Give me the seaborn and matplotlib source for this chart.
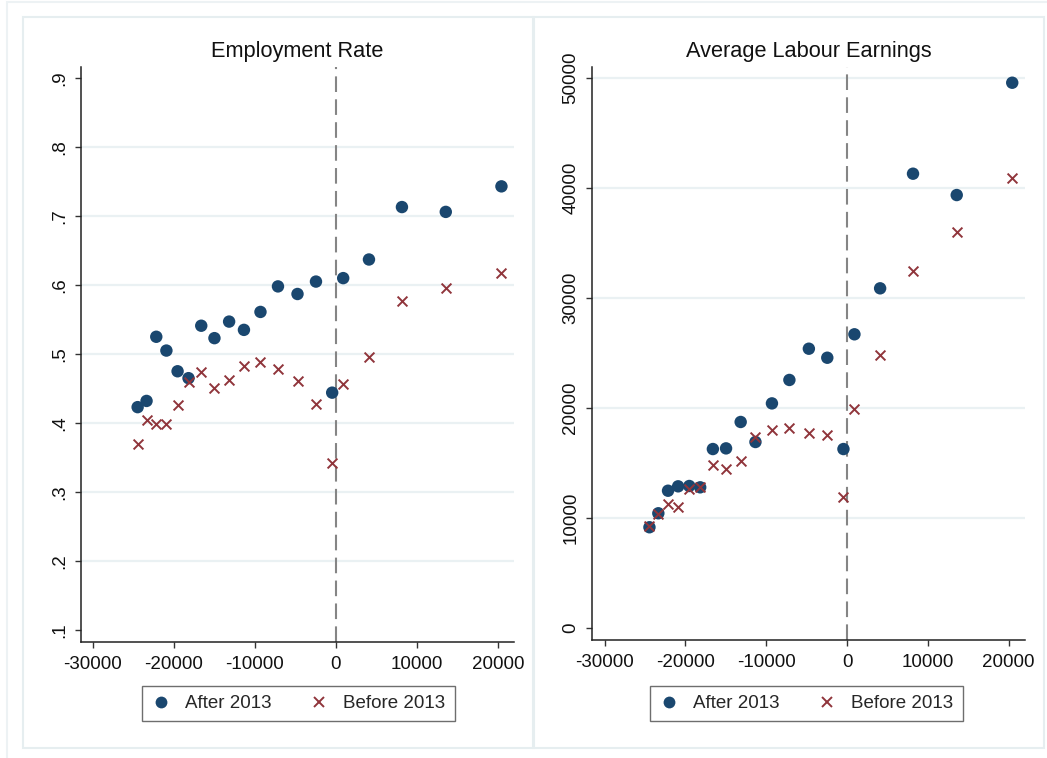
import matplotlib
matplotlib.use("Agg")
import matplotlib.pyplot as plt
from matplotlib.lines import Line2D
from matplotlib.patches import Rectangle
import seaborn as sns
import pandas as pd

# Running variable (bin centres)
income_bins = [-24450, -23350, -22150, -20900, -19520, -18170, -16600, -14970,
               -13160, -11330, -9290, -7130, -4720, -2440, -440, 920, 4100,
               8170, 13580, 20450]

# Employment rate by bin
emp_after = [0.423, 0.432, 0.525, 0.505, 0.475, 0.465, 0.541, 0.523, 0.547,
             0.535, 0.561, 0.598, 0.587, 0.605, 0.444, 0.610, 0.637, 0.713,
             0.706, 0.743]
emp_before = [0.370, 0.404, 0.399, 0.399, 0.426, 0.459, 0.474, 0.451, 0.463,
              0.482, 0.489, 0.478, 0.461, 0.427, 0.342, 0.456, 0.496, 0.577,
              0.596, 0.618]

# Average labour earnings by bin
earn_after = [9160, 10430, 12480, 12880, 12910, 12790, 16270, 16330, 18730,
              16910, 20420, 22550, 25390, 24570, 16270, 26700, 30880, 41300,
              39360, 49570]
earn_before = [9300, 10390, 11300, 11000, 12640, 12790, 14820, 14420, 15210,
               17390, 18000, 18150, 17760, 17520, 11880, 19940, 24820, 32450,
               36030, 40910]

series_labels = ["After 2013", "Before 2013"]
titles = ["Employment Rate", "Average Labour Earnings"]

emp_ticks = [0.1, 0.2, 0.3, 0.4, 0.5, 0.6, 0.7, 0.8, 0.9]
emp_ticklabels = [".1", ".2", ".3", ".4", ".5", ".6", ".7", ".8", ".9"]
earn_ticks = [0, 10000, 20000, 30000, 40000, 50000]
earn_ticklabels = ["0", "10000", "20000", "30000", "40000", "50000"]
x_ticks = [-30000, -20000, -10000, 0, 10000, 20000]
x_ticklabels = ["-30000", "-20000", "-10000", "0", "10000", "20000"]

BLUE = "#1a476f"
RED = "#90353b"
GRID = "#eaf1f3"
FRAME = "#e6eef0"

sns.set_theme(style="white")
plt.rcParams["font.family"] = ["Liberation Sans", "DejaVu Sans"]

fig = plt.figure(figsize=(10.47, 7.58), dpi=100)
fig.patch.set_facecolor("white")

W, H = 1047, 758


def fx(px):
    return px / W


def fy(py):
    return 1 - py / H


# Outer frame and the two panel frames
fig.add_artist(Rectangle((fx(7), fy(762)), fx(1050), fy(1.5) - fy(762),
                         transform=fig.transFigure, fill=False,
                         edgecolor="#edf2f4", lw=1.5))
for x0, x1 in [(23, 533), (534, 1044)]:
    fig.add_artist(Rectangle((fx(x0), fy(748)), fx(x1 - x0), fy(17) - fy(748),
                             transform=fig.transFigure, fill=False,
                             edgecolor=FRAME, lw=1.5))

panels = [
    dict(rect=(81, 67, 514, 642), y_after=emp_after, y_before=emp_before,
         yticks=emp_ticks, yticklabels=emp_ticklabels, grid=emp_ticks[1:-1],
         ylim=(0.0826, 0.916), xlim=(-31440, 22000), legend_cx=298.5),
    dict(rect=(592, 67, 1025, 640), y_after=earn_after, y_before=earn_before,
         yticks=earn_ticks, yticklabels=earn_ticklabels, grid=earn_ticks[1:],
         ylim=(-1090, 51000), xlim=(-31560, 22030), legend_cx=806.5),
]

for title, p in zip(titles, panels):
    x0, y0, x1, y1 = p["rect"]
    ax = fig.add_axes([fx(x0), fy(y1), fx(x1 - x0), fy(y0) - fy(y1)])
    ax.set_facecolor("white")

    df = pd.DataFrame({
        "x": income_bins * 2,
        "y": list(p["y_after"]) + list(p["y_before"]),
        "group": [series_labels[0]] * len(income_bins) + [series_labels[1]] * len(income_bins),
    })

    for gy in p["grid"]:
        ax.axhline(gy, color=GRID, lw=1.6, zorder=0)
    ax.axvline(0, color="#858585", lw=1.5, linestyle=(0, (7.5, 3.5)), zorder=1)

    sns.scatterplot(data=df[df["group"] == series_labels[0]], x="x", y="y",
                    color=BLUE, marker="o", s=80, edgecolor="none",
                    legend=False, ax=ax, zorder=3)
    sns.scatterplot(data=df[df["group"] == series_labels[1]], x="x", y="y",
                    color=RED, marker="x", s=50, linewidth=1.4,
                    legend=False, ax=ax, zorder=3)

    ax.set_xlim(*p["xlim"])
    ax.set_ylim(*p["ylim"])
    ax.set_xticks(x_ticks)
    ax.set_xticklabels(x_ticklabels)
    ax.set_yticks(p["yticks"])
    ax.set_yticklabels(p["yticklabels"], rotation=90, va="center")
    ax.set_xlabel("")
    ax.set_ylabel("")
    ax.set_title(title, fontsize=15.7, pad=7, color="#111111")

    for side in ["top", "right"]:
        ax.spines[side].set_visible(False)
    for side in ["left", "bottom"]:
        ax.spines[side].set_color("#222222")
        ax.spines[side].set_linewidth(1.1)
    ax.tick_params(axis="both", which="major", direction="out", length=4,
                   width=1.0, color="#333333", labelsize=13.5,
                   labelcolor="#111111", left=True, bottom=True)
    ax.tick_params(axis="x", pad=6)
    ax.tick_params(axis="y", pad=5)

    handles = [
        Line2D([], [], linestyle="none", marker="o", color=BLUE,
               markersize=8.5, markeredgewidth=0),
        Line2D([], [], linestyle="none", marker="x", color=RED,
               markersize=7, markeredgewidth=1.4),
    ]
    leg = ax.legend(handles, series_labels, loc="center",
                    bbox_to_anchor=(fx(p["legend_cx"]), fy(703.5)),
                    bbox_transform=fig.transFigure, ncol=2, frameon=True,
                    fancybox=False, edgecolor="#4a4a4a", fontsize=13.5,
                    handletextpad=0.8, columnspacing=2.0, borderpad=0.5,
                    handlelength=1.0)
    leg.get_frame().set_linewidth(1.0)

fig.savefig("out.png", dpi=100, facecolor="white")
